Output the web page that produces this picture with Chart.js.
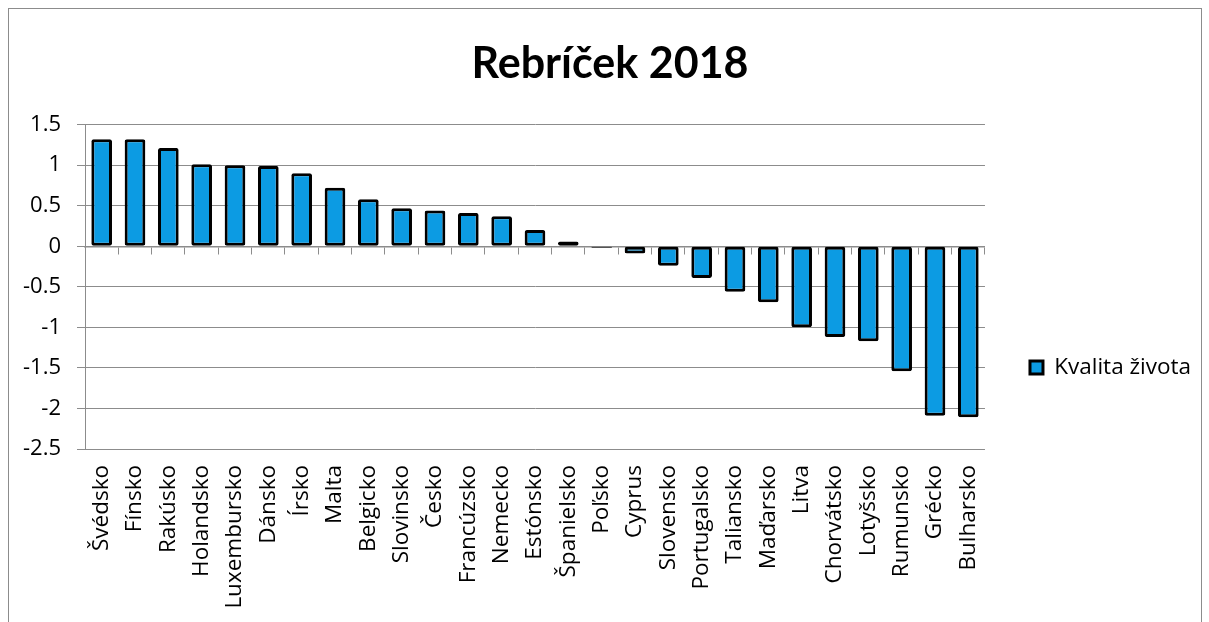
<!DOCTYPE html>
<html>
<head>
<meta charset="utf-8">
<script src="https://cdn.jsdelivr.net/npm/chart.js@4.4.1/dist/chart.umd.min.js"></script>
<style>
  body { margin: 0; background: #fff; }
  #frame { position: absolute; left: 8px; top: 8px; width: 1192px; height: 660px; border: 1px solid #8c8c8c; }
  #wrap { position: absolute; left: 0; top: 0; width: 1192px; height: 613px; }
</style>
</head>
<body>
<div id="frame"><div id="wrap"><canvas id="chart"></canvas></div></div>
<script>
const countries = [
  'Švédsko', 'Fínsko', 'Rakúsko', 'Holandsko', 'Luxembursko', 'Dánsko', 'Írsko',
  'Malta', 'Belgicko', 'Slovinsko', 'Česko', 'Francúzsko', 'Nemecko', 'Estónsko',
  'Španielsko', 'Poľsko', 'Cyprus', 'Slovensko', 'Portugalsko', 'Taliansko',
  'Maďarsko', 'Litva', 'Chorvátsko', 'Lotyšsko', 'Rumunsko', 'Grécko', 'Bulharsko'
]
const qualityOfLife = [
  1.32, 1.32, 1.21, 1.01, 1.0, 0.99, 0.9,
  0.72, 0.58, 0.47, 0.44, 0.41, 0.37, 0.2,
  0.06, -0.02, -0.09, -0.24, -0.39, -0.56,
  -0.69, -1.0, -1.12, -1.17, -1.54, -2.09, -2.11
]
const seriesName = 'Kvalita života'
const chartTitle = 'Rebríček 2018'

const FONT = '"Open Sans", sans-serif'
const TITLE_FONT = 'Lato, "Open Sans", sans-serif'
const GRID = '#8c8c8c'

// Excel centres the title a bit right of the canvas middle
const titleShift = {
  id: 'titleShift',
  afterLayout(chart) {
    chart.titleBlock.left += 10
  }
}

new Chart(document.getElementById('chart'), {
  type: 'bar',
  data: {
    labels: countries,
    datasets: [{
      label: seriesName,
      data: qualityOfLife,
      backgroundColor: '#0c9be3',
      borderColor: '#000',
      borderWidth: 3,
      borderRadius: 2,
      borderSkipped: false,
      barPercentage: 0.62,
      categoryPercentage: 1
    }]
  },
  options: {
    responsive: true,
    maintainAspectRatio: false,
    animation: false,
    layout: { padding: { left: 0, right: 0, top: 0, bottom: 0 } },
    plugins: {
      title: {
        display: true,
        text: chartTitle,
        color: '#000',
        font: { family: TITLE_FONT, size: 43, weight: 'bold', lineHeight: 1.2 },
        padding: { top: 29, bottom: 35 }
      },
      legend: {
        position: 'right',
        title: { display: true, text: ' ', padding: { top: 40, bottom: 40 }, font: { size: 20 } },
        labels: {
          color: '#000',
          boxWidth: 13,
          boxHeight: 13,
          padding: 45,
          font: { family: FONT, size: 22.5 }
        }
      },
      tooltip: { enabled: false }
    },
    scales: {
      x: {
        grid: { display: false, drawTicks: false },
        border: { display: false },
        ticks: {
          autoSkip: false,
          minRotation: 90,
          maxRotation: 90,
          padding: 16,
          color: '#000',
          font: { family: FONT, size: 22.5 }
        },
        afterFit: scale => { scale.height = 173 }
      },
      x2: {
        position: { y: 0 },
        grid: { drawOnChartArea: false, drawTicks: true, tickLength: 7, offset: true, color: GRID },
        border: { display: true, color: GRID, width: 1.5 },
        ticks: { display: false }
      },
      y: {
        min: -2.5,
        max: 1.5,
        ticks: {
          stepSize: 0.5,
          padding: 16,
          color: '#000',
          font: { family: FONT, size: 22 },
          callback: value => `${value}`
        },
        grid: { color: GRID, tickLength: 8 },
        border: { color: GRID },
        afterFit: scale => { scale.width = 76 }
      }
    }
  },
  plugins: [titleShift]
})
</script>
</body>
</html>
